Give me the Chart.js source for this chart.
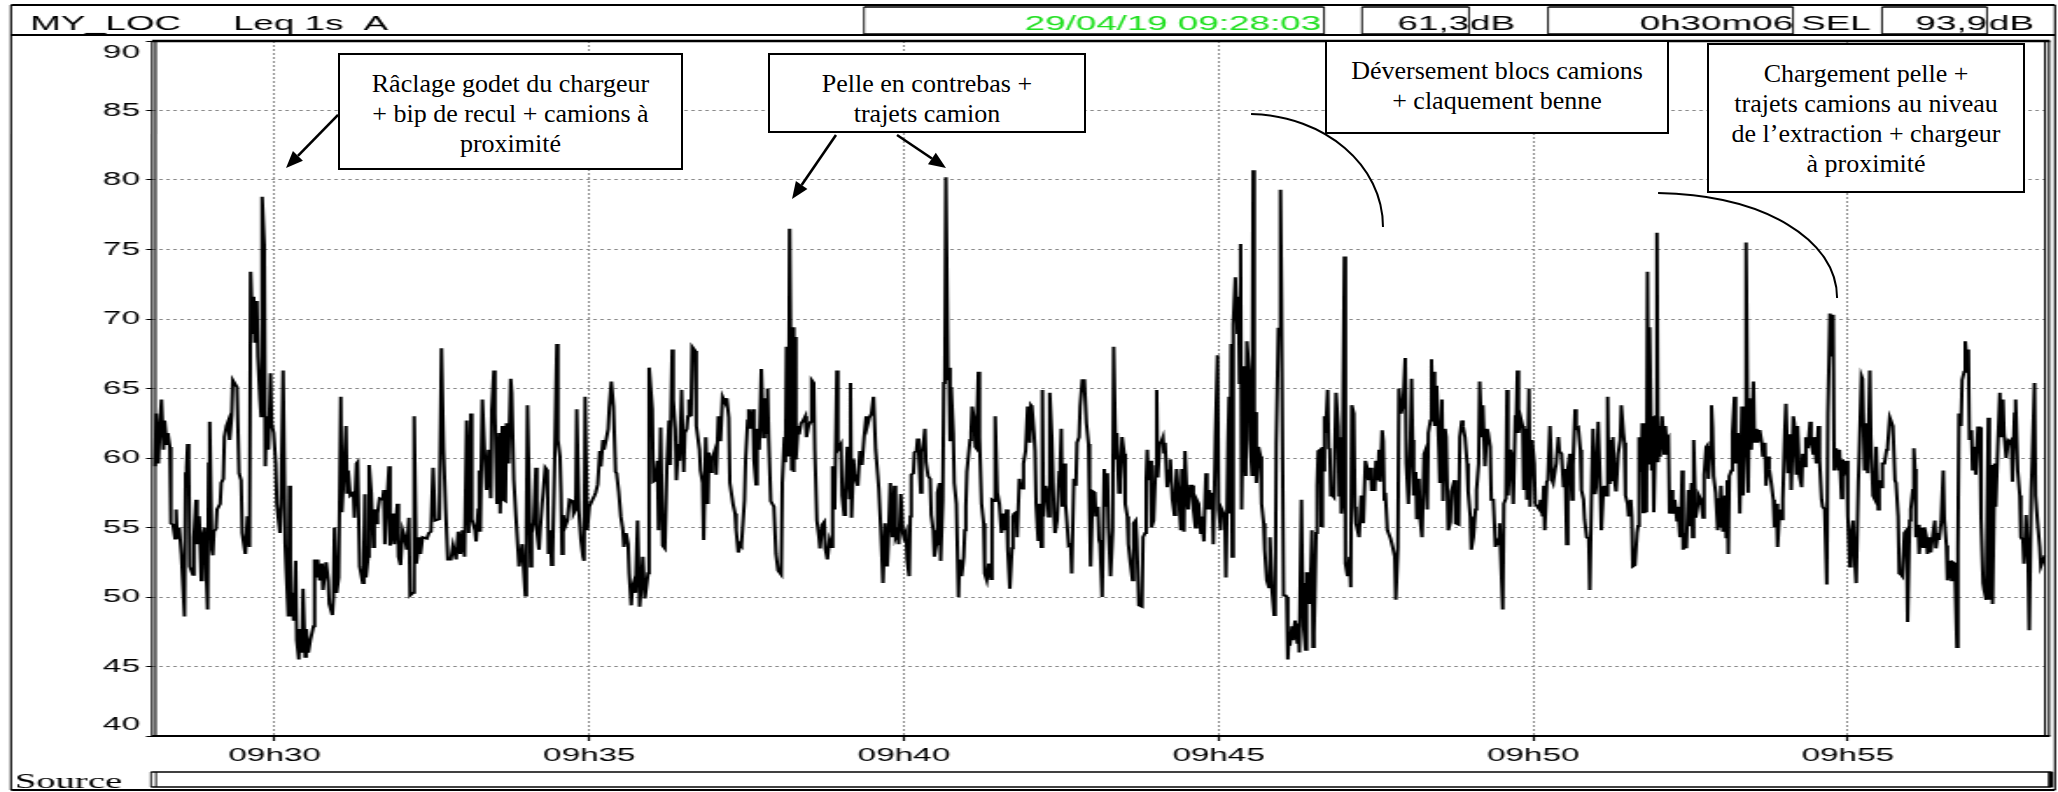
<!DOCTYPE html>
<html lang="fr">
<head>
<meta charset="utf-8">
<title>MY_LOC Leq 1s A</title>
<script src="https://cdn.jsdelivr.net/npm/chart.js@4.4.1/dist/chart.umd.min.js"></script>
<style>
html,body{margin:0;padding:0;background:#fff;overflow:hidden;}
#wrap{position:relative;width:2058px;height:792px;}
#chart{position:absolute;left:0;top:0;}
#ov{position:absolute;left:0;top:0;width:2058px;height:792px;overflow:visible;}
.note{position:absolute;box-sizing:border-box;border:2px solid #000;background:#fff;color:#000;
 font-family:"Liberation Serif","Times New Roman",serif;font-size:26px;line-height:30px;text-align:center;padding-top:14px;white-space:nowrap;}
</style>
</head>
<body>
<div id="wrap">
<canvas id="chart" width="1176" height="792" style="width:2058px;height:792px;display:block"></canvas>
<div id="notes"></div>
<svg id="ov" width="2058" height="792" xmlns="http://www.w3.org/2000/svg"></svg>
</div>
<script>
// ---- data: seconds after 09:28:03 and Leq 1s (dB(A)) read from the record ----
const times = [
3,4,6,8,9,11,12,14,15,17,18,20,22,23,24,26,28,31,32,33,
34,35,36,39,40,42,43,45,47,48,50,53,54,55,57,58,59,61,62,65,
66,68,69,71,73,74,76,77,81,83,85,86,89,91,93,94,96,97,98,100,
101,103,104,105,107,108,109,111,113,114,116,118,119,122,123,125,127,128,130,131,
132,134,135,137,138,140,141,143,144,146,147,149,151,154,155,157,158,160,162,163,
166,168,169,172,173,174,176,178,180,181,183,185,186,187,189,192,193,195,196,198,
201,202,203,204,206,207,209,211,212,214,215,217,220,221,222,224,226,227,230,231,
234,235,237,239,241,243,245,246,249,250,252,255,256,258,262,264,266,268,270,274,
276,278,280,282,285,287,290,292,294,296,298,300,302,304,305,308,309,311,312,313,
315,317,319,321,323,324,326,327,329,331,332,334,335,337,338,340,342,343,345,347,
349,350,353,356,357,358,
361,362,364,366,367,369,370,372,373,375,377,378,380,381,382,384,386,387,389,390,
391,392,394,396,398,401,402,404,405,407,409,411,412,413,415,417,420,422,423,425,
427,428,430,431,433,435,436,438,440,442,443,445,447,449,450,452,454,455,457,458,
460,461,463,465,466,468,470,473,474,477,478,480,482,483,485,487,489,491,493,494,
496,497,499,500,502,503,505,507,508,510,511,512,514,515,518,519,522,523,525,526,
528,530,531,533,534,537,538,540,542,544,547,548,550,551,554,556,557,559,561,562,
565,566,568,569,571,573,574,576,577,579,581,583,584,586,587,588,590,593,595,597,
600,601,603,604,605,607,608,610,611,612,613,614,616,617,619,621,623,624,626,628,
629,631,632,634,636,637,639,641,642,644,646,648,649,651,653,654,657,658,660,661,
663,665,666,667,669,670,673,675,677,679,681,682,684,686,688,690,692,693,695,697,
699,701,702,704,706,708,709,711,712,714,716,717,719,720,
722,723,724,726,727,729,730,731,733,734,736,737,738,740,742,743,745,746,748,749,
751,752,754,755,756,757,759,760,761,762,764,765,767,769,770,772,774,775,776,777,
780,781,782,784,785,786,788,789,791,793,794,796,798,800,801,803,804,806,808,810,
812,813,815,816,818,820,821,822,824,825,827,828,830,831,833,835,837,838,839,841,
842,843,845,846,848,849,850,852,854,855,856,858,860,861,863,865,866,867,868,870,
871,872,874,876,877,879,881,882,884,885,887,889,891,893,894,895,897,899,900,902,
903,904,906,908,909,911,912,914,916,917,919,920,922,923,925,927,928,930,931,933,
935,936,938,939,941,944,945,947,948,949,950,952,953,955,957,958,959,961,962,964,
965,966,968,970,971,973,975,976,977,979,981,982,984,985,987,988,990,992,993,995,
996,998,1000,1001,1003,1004,1005,1006,1008,1009,1011,1012,1014,1016,1017,1019,1020,1023,1024,1026,
1027,1028,1029,1030,1031,1033,1035,1036,1037,1038,1039,1041,1043,1044,1046,1047,1049,1050,1051,1052,
1053,1055,1057,1058,1060,1061,1063,1065,1066,1068,1070,1071,1072,1074,1075,1076,1077,1079,1081,1082,
1083,
1084,1085,1087,1088,1090,1092,1093,1094,1096,1097,1098,1100,1101,1103,1104,1106,1107,1108,1110,1111,
1112,1114,1115,1116,1117,1118,1119,1121,1122,1123,1124,1126,1127,1129,1131,1132,1133,1134,1135,1137,
1138,1140,1142,1143,1144,1146,1147,1148,1149,1151,1153,1154,1155,1157,1159,1160,1162,1163,1166,1167,
1169,1170,1171,1173,1174,1175,1176,1178,1181,1183,1185,1186,1188,1189,1191,1193,1195,1196,1198,1200,
1201,1202,1203,1205,1206,1208,1209,1211,1213,1214,1216,1217,1219,1220,1221,1222,1223,1225,1227,1228,
1230,1231,1233,1234,1236,1238,1239,1242,1243,1246,1247,1249,1250,1252,1254,1255,1257,1258,1260,1262,
1263,1265,1266,1268,1269,1271,1273,1274,1276,1277,1279,1281,1282,1284,1285,1287,1288,1289,1291,1292,
1293,1295,1296,1298,1300,1301,1302,1303,1305,1307,1308,1310,1311,1313,1314,1316,1318,1319,1321,1323,
1324,1326,1327,1328,1330,1331,1333,1335,1336,1338,1339,1341,1342,1344,1346,1347,1348,1349,1350,1352,
1354,1355,1357,1358,1360,1362,1363,1365,1366,1368,1370,1371,1373,1374,1376,1377,1379,1381,1382,1384,
1385,1387,1388,1389,1390,1392,1393,1395,1396,1398,1400,1401,1403,1404,1405,1407,1408,1410,1411,1412,
1414,1416,1417,1418,1420,1421,1422,1423,1425,1426,1427,1428,1430,1431,1432,1434,1435,1436,1437,1438,
1440,1442,1443,1444,
1446,1447,1449,1450,1452,1454,1455,1457,1458,1459,1460,1462,1463,1465,1466,1468,1469,1470,1472,1474,
1475,1477,1479,1480,1482,1483,1484,1486,1487,1488,1489,1491,1493,1494,1495,1496,1498,1500,1501,1502,
1503,1504,1506,1507,1509,1510,1512,1513,1514,1516,1517,1519,1520,1522,1523,1525,1527,1528,1530,1531,
1533,1535,1536,1538,1539,1541,1542,1544,1546,1547,1549,1550,1552,1554,1555,1557,1558,1560,1562,1563,
1565,1566,1568,1569,1571,1573,1574,1576,1577,1579,1581,1582,1584,1585,1587,1589,1590,1592,1593,1595,
1597,1598,1600,1601,1603,1604,1606,1608,1609,1611,1612,1614,1616,1617,1619,1620,1622,1623,1625,1627,
1628,1630,1631,1633,1635,1636,1638,1639,1641,1643,1644,1646,1647,1649,1650,1652,1654,1655,1657,1658,
1660,1662,1663,1665,1666,1668,1669,1671,1673,1674,1676,1677,1679,1680,1681,1682,1684,1685,1687,1689,
1690,1692,1693,1695,1696,1698,1700,1701,1703,1704,1706,1708,1709,1711,1712,1714,1716,1717,1719,1721,
1722,1723,1725,1726,1728,1729,1731,1732,1733,1735,1736,1738,1739,1741,1743,1744,1746,1747,1749,1751,
1752,1754,1755,1757,1758,1760,1762,1763,1765,1766,1768,1770,1771,1773,1774,1776,1777,1779,1781,1782,
1784,1785,1787,1789,1790,1792,1793,1795,1796,1798,1800,1801,1805
];
const levels = [
59.4,63.2,59.6,63.0,64.2,60.6,62.7,61.0,61.8,60.8,55.3,55.2,54.2,56.3,54.2,55.0,53.1,48.6,58.9,59.3,
61.0,59.9,52.2,51.6,54.3,57.0,53.8,55.8,51.2,54.3,55.0,49.1,59.6,62.6,53.4,53.0,54.7,54.9,56.3,56.7,
58.2,58.5,61.5,62.3,62.7,61.3,63.1,65.6,65.1,58.9,58.4,54.6,53.1,55.8,53.6,73.4,69.0,71.6,68.3,71.3,
67.3,64.2,63.0,78.8,75.4,59.4,63.0,60.6,66.1,62.5,61.8,59.6,56.7,54.6,56.5,66.3,53.8,51.9,48.6,58.0,
48.6,50.3,48.3,52.6,46.9,45.5,47.7,46.0,50.6,45.7,47.7,46.0,46.9,47.9,52.7,51.4,52.7,51.2,52.4,50.5,
52.5,51.2,49.5,48.7,50.0,55.0,50.3,51.4,64.4,56.1,59.1,62.3,57.5,59.1,57.3,57.5,55.7,59.6,59.7,52.2,
51.0,53.1,57.4,51.4,52.9,59.5,57.5,53.6,56.3,55.3,56.0,57.1,57.0,57.7,53.8,56.7,59.4,53.7,56.0,53.8,
56.7,52.9,52.3,54.8,54.3,53.4,55.7,50.1,50.3,63.0,52.4,54.3,53.1,54.3,54.2,54.6,54.7,59.3,55.5,55.6,
67.9,60.6,56.3,52.7,52.7,53.7,52.7,54.7,53.1,54.8,52.9,62.7,54.6,63.2,55.6,54.8,54.0,56.3,59.1,54.7,
64.2,60.6,57.7,60.6,57.1,63.5,66.3,63.2,56.7,61.8,56.0,62.3,57.0,56.9,62.5,59.6,65.7,64.7,58.4,55.8,
53.4,52.2,53.8,50.1,55.0,63.8,
52.2,54.6,55.4,59.3,54.8,53.4,54.7,56.7,57.5,59.3,59.1,53.1,54.8,52.3,53.1,60.1,68.2,61.3,60.1,57.5,
53.1,55.9,55.1,55.5,57.0,56.9,56.0,56.3,63.5,56.3,54.1,52.9,52.6,64.4,54.8,56.5,57.0,57.3,57.5,58.1,
60.5,59.4,61.3,60.6,61.3,62.1,63.6,65.5,63.7,59.0,58.9,57.6,55.8,54.8,53.6,54.6,53.8,51.7,49.4,50.7,
51.2,50.3,55.5,49.3,50.3,52.9,49.9,51.7,66.5,63.5,58.3,58.4,59.8,54.8,62.2,53.7,53.5,59.5,62.7,59.5,
67.8,64.2,62.1,58.4,61.0,59.8,64.9,59.0,61.8,62.1,63.0,64.2,63.0,68.0,67.7,62.3,60.6,59.1,58.2,54.1,
61.5,56.7,60.4,59.0,59.9,60.6,58.8,63.0,61.2,64.4,63.9,64.3,62.9,58.2,56.7,56.0,54.8,53.2,53.8,53.7,
57.0,59.9,62.7,63.5,62.1,63.5,59.9,58.1,62.1,60.6,66.4,61.5,64.3,61.8,65.0,61.5,56.9,56.5,53.1,51.9,
51.6,58.2,61.5,59.7,68.0,60.1,76.5,59.1,69.4,59.0,68.7,59.9,62.3,61.7,62.5,62.7,63.0,61.5,62.3,62.6,
65.6,65.4,60.6,55.5,54.3,53.5,55.2,55.4,53.5,52.7,54.1,53.6,59.4,56.3,66.3,60.6,61.0,57.3,55.9,57.3,
60.8,57.1,65.4,55.7,59.9,58.8,58.0,60.5,59.5,61.5,63.0,62.3,62.9,63.2,64.4,60.6,58.8,57.8,54.8,51.0,
55.3,52.2,53.8,58.2,54.3,58.0,54.3,54.7,53.8,57.4,54.6,54.3,54.7,52.7,
51.5,55.8,58.8,58.9,60.4,60.5,61.4,60.5,57.5,60.4,61.3,62.1,59.7,58.7,58.5,55.9,54.8,52.9,53.8,57.5,
58.2,52.6,57.0,65.4,65.6,80.2,65.6,66.5,61.2,65.1,61.8,58.2,56.7,50.0,52.7,51.5,52.9,54.8,56.5,59.0,
61.3,61.8,63.7,62.7,60.8,60.7,66.2,61.5,56.7,55.3,51.7,51.2,52.4,51.3,57.0,56.9,63.0,57.5,56.7,54.6,
56.0,54.8,56.3,53.4,50.6,53.5,55.8,56.0,56.1,54.3,58.5,58.0,57.8,59.6,60.5,63.7,61.1,63.8,63.7,61.8,
60.5,56.7,54.1,56.7,53.6,64.9,55.8,58.0,57.3,55.8,64.7,61.5,56.0,54.6,55.5,59.0,59.6,62.1,56.5,59.6,
56.7,55.8,53.7,53.8,51.7,58.5,58.0,61.1,61.5,63.7,65.6,65.6,62.5,61.0,56.3,52.2,57.6,57.5,55.8,56.5,
54.1,53.8,50.0,59.2,56.5,58.9,55.0,51.5,54.8,68.0,59.9,61.8,57.5,58.4,61.5,60.3,56.7,55.8,53.8,52.4,
51.2,55.3,55.5,54.2,49.4,49.3,54.3,54.6,58.4,60.6,58.4,59.8,55.0,55.5,59.4,64.9,58.6,61.1,61.1,61.5,
60.4,61.1,57.9,59.1,59.9,57.0,55.9,57.7,59.2,57.3,54.8,59.2,54.7,60.5,57.0,56.3,58.0,58.0,56.3,55.0,
57.0,56.7,54.6,55.8,54.0,56.7,58.9,56.3,57.7,56.3,57.5,53.8,61.5,67.4,56.3,54.8,56.3,55.8,51.4,61.0,
64.4,56.0,68.2,52.9,69.6,73.0,69.0,71.6,65.4,75.4,56.3,66.6,58.7,68.4,66.3,61.3,58.7,80.7,58.7,63.3,
58.2,60.8,60.1,56.7,55.3,53.4,51.2,50.7,54.3,50.5,48.7,48.8,61.0,69.3,69.3,79.3,71.4,50.1,50.1,50.0,
45.5,
47.2,46.5,47.9,46.9,48.3,46.7,48.1,46.0,57.0,51.0,47.9,46.2,51.7,51.7,49.5,54.8,46.4,47.4,54.6,58.0,
60.5,60.6,55.1,60.8,59.1,63.0,61.8,64.9,60.7,60.6,57.3,57.3,57.2,64.7,62.3,57.3,61.5,56.0,57.0,74.5,
52.4,51.5,52.9,50.7,63.8,63.2,56.5,55.3,55.0,54.3,57.3,57.0,55.3,59.8,59.2,58.4,59.3,57.7,57.7,59.8,
58.4,60.6,58.3,62.0,61.2,57.0,57.5,54.8,54.2,53.6,52.9,49.8,53.6,65.0,63.2,63.9,67.2,59.6,56.7,61.5,
65.7,61.3,57.3,59.0,55.6,58.5,55.8,54.3,60.3,60.5,56.3,61.8,62.7,67.1,63.5,66.2,62.3,65.2,60.8,58.2,
64.2,56.9,62.1,61.5,54.8,55.4,57.6,58.4,55.3,55.2,61.5,62.7,62.3,61.5,59.6,57.6,55.8,53.4,54.3,56.3,
57.7,59.6,65.5,61.5,63.8,59.4,62.1,61.8,60.8,57.0,57.0,53.6,54.1,53.8,55.3,51.0,49.1,56.7,57.1,64.9,
57.3,60.6,60.3,56.7,63.0,63.0,66.3,61.8,62.9,62.3,57.7,62.1,57.0,65.0,56.5,61.3,59.6,56.7,56.5,56.3,
57.0,55.8,58.0,54.8,58.3,58.4,62.3,58.4,58.2,59.2,59.6,61.5,60.5,60.3,57.9,59.2,57.7,53.8,59.2,60.3,
57.0,59.5,63.5,62.1,62.2,60.6,57.7,57.0,55.6,54.3,54.2,50.5,58.7,62.1,57.4,57.9,62.6,57.9,54.8,57.9,
58.0,57.3,64.4,58.2,61.3,58.4,61.5,58.2,57.6,60.3,61.3,63.8,61.8,61.1,57.3,56.7,55.8,57.0,55.8,52.2,
52.3,54.6,55.1,61.5,59.0,62.5,56.1,62.5,56.1,73.4,59.6,69.4,59.1,63.0,56.1,63.0,76.2,59.7,62.3,60.1,
63.0,60.3,62.3,61.3,
61.5,56.0,57.7,56.0,57.0,55.5,56.5,54.3,55.5,59.1,53.4,54.6,53.5,57.7,55.1,58.2,54.3,61.3,55.7,56.7,
57.3,57.0,55.7,58.8,60.8,60.9,58.5,60.8,63.8,62.2,58.7,57.5,54.8,57.1,55.0,58.0,54.7,57.3,54.3,58.4,
53.1,58.7,59.1,61.8,64.4,59.6,61.8,59.6,56.0,63.7,57.3,61.5,75.5,57.5,64.3,60.6,65.5,61.1,62.1,61.1,
62.0,61.1,60.1,61.1,58.0,60.1,59.2,58.2,57.0,55.0,56.7,53.6,56.3,55.6,57.0,62.0,63.9,58.9,61.7,57.7,
63.0,62.5,58.8,62.3,58.7,57.9,60.3,59.4,61.5,60.7,62.6,61.3,60.3,61.5,59.6,62.3,59.9,57.0,56.5,56.3,
50.9,63.2,70.4,67.3,70.3,59.1,60.7,59.1,60.6,57.1,59.9,59.2,59.8,55.8,52.2,54.3,55.5,53.4,51.0,58.2,
60.5,65.9,65.7,59.1,62.5,58.9,66.3,61.5,57.3,57.0,60.8,56.3,58.4,57.9,59.6,59.6,60.6,60.8,62.9,62.7,
62.3,58.4,58.2,55.8,51.7,51.6,51.5,54.6,54.8,48.2,55.5,56.3,57.7,60.7,59.2,54.3,55.2,53.1,55.0,53.6,
55.0,54.3,53.1,54.3,53.2,54.4,55.5,53.5,54.6,54.1,55.4,59.1,55.6,53.7,51.2,52.6,51.2,52.5,52.4,46.4,
53.4,63.2,62.3,65.6,66.2,68.4,66.3,67.8,61.3,62.0,59.1,60.8,58.8,62.2,62.2,55.8,51.0,50.5,49.8,62.9,
49.8,59.5,49.5,59.6,56.5,60.8,64.7,61.5,64.2,61.8,60.0,61.2,61.1,61.3,58.3,63.2,64.2,59.1,57.3,54.3,
54.1,52.4,55.9,52.4,47.6,57.7,60.1,65.4,57.3,55.3,53.6,52.2,53.0
];

// axis ticks
const recordLength = 1806;                       // 0h30m06
const tickSeconds = [117, 417, 717, 1017, 1317, 1617];
const tickLabels = ['09h30', '09h35', '09h40', '09h45', '09h50', '09h55'];
const yMin = 40, yMax = 90, yStep = 5;

// header texts
const stationName = 'MY_LOC';
const measureName = 'Leq 1s  A';
const startStamp = '29/04/19 09:28:03';
const leqValue = '61,3';
const durationText = '0h30m06';
const selValue = '93,9';
const sourceLabel = 'Source';

// annotations, anchored in data units [t0, t1, dB top, dB bottom]
const noteTexts = [
  ['Râclage godet du chargeur', '+ bip de recul + camions à', 'proximité'],
  ['Pelle en contrebas +', 'trajets camion'],
  ['Déversement blocs camions', '+ claquement benne'],
  ['Chargement pelle +', 'trajets camions au niveau', 'de l’extraction + chargeur', 'à proximité']
];
const noteBoxes = [[177.4, 506.3, 89.14, 80.72], [587.4, 890.6, 89.14, 83.38], [1118.5, 1446.5, 90.07, 83.31], [1482.8, 1786.0, 89.86, 79.06]];
const noteArrows = [[177.4, 84.68, 127.8, 80.86], [652.2, 83.24, 610.3, 78.63], [710.4, 83.24, 757.1, 80.86]];
const noteCurves = [
  [1048, 84.75, 1118.5, 84.6, 1173.8, 81.08, 1173.8, 76.62],
  [1436.1, 79.06, 1538.1, 78.92, 1606.8, 75.68, 1606.8, 71.51]
];

// ---- layout (canvas is drawn narrow and stretched horizontally like the original print) ----
const CW = 1176, CH = 792, S = 2058 / CW;
const fx = v => v / S;
const SANS = '"Liberation Sans", Arial, sans-serif';
const SERIF = '"Liberation Serif", "Times New Roman", serif';

const decor = {
  id: 'decor',
  beforeDraw(chart) {
    const c = chart.ctx;
    c.save(); c.fillStyle = '#fff'; c.fillRect(0, 0, CW, CH); c.restore();
  },
  afterDraw(chart) {
    const c = chart.ctx, a = chart.chartArea;
    c.save();
    c.strokeStyle = '#000';
    c.setLineDash([]);
    const hl = (x1, x2, y, w) => { c.lineWidth = w; c.beginPath(); c.moveTo(fx(x1), y); c.lineTo(fx(x2), y); c.stroke(); };
    const vl = (x, y1, y2, w) => { c.lineWidth = w / S; c.beginPath(); c.moveTo(fx(x), y1); c.lineTo(fx(x), y2); c.stroke(); };
    const rect = (x1, y1, x2, y2, w) => { hl(x1, x2, y1, w); hl(x1, x2, y2, w); vl(x1, y1, y2, w); vl(x2, y1, y2, w); };

    // outer frame and header row
    rect(11, 5, 2055, 790, 2);
    hl(11, 2055, 35, 2);
    rect(864, 7, 1324, 34, 1.6);
    rect(1362, 7, 1469, 34, 1.6);
    rect(1548, 7, 1793, 34, 1.6);
    rect(1882, 7, 1987, 34, 1.6);

    c.font = '21px ' + SANS;
    c.textBaseline = 'alphabetic';
    c.fillStyle = '#000';
    c.textAlign = 'left';
    c.fillText(stationName, fx(30), 30);
    c.fillText(measureName, fx(233), 30);
    c.textAlign = 'right';
    c.fillStyle = '#1fe01f';
    c.fillText(startStamp, fx(1321), 30);
    c.fillStyle = '#000';
    c.fillText(leqValue, fx(1469), 30);
    c.fillText(durationText, fx(1793), 30);
    c.fillText(selValue, fx(1987), 30);
    c.textAlign = 'left';
    c.fillText('dB', fx(1470), 30);
    c.fillText('SEL', fx(1801), 30);
    c.fillText('dB', fx(1989), 30);

    // plot frame
    const L = a.left, R = a.right, T = a.top, B = a.bottom;
    c.lineWidth = 2.6; c.beginPath(); c.moveTo(L, T); c.lineTo(R + fx(4), T); c.stroke();
    c.lineWidth = 2; c.beginPath(); c.moveTo(L, B); c.lineTo(R + fx(4), B); c.stroke();
    c.lineWidth = 1.1;
    [L, L + fx(3.6), R - fx(1), R + fx(3)].forEach(x => { c.beginPath(); c.moveTo(x, T); c.lineTo(x, B); c.stroke(); });

    // source row
    rect(151, 772, 2052, 787, 1.6);
    vl(156, 772, 787, 1.6);
    c.fillRect(fx(2048), 772, fx(5), 15);
    c.font = '22px ' + SERIF;
    c.textAlign = 'left';
    c.fillText(sourceLabel, fx(15), 788);
    c.restore();
  }
};

const n = Math.min(times.length, levels.length);
const points = [];
for (let i = 0; i < n; i++) points.push({ x: times[i], y: levels[i] });

const chart = new Chart(document.getElementById('chart'), {
  type: 'line',
  data: {
    datasets: [{
      label: 'Leq 1s A',
      data: points,
      borderColor: '#000',
      borderWidth: 2,
      pointRadius: 0,
      tension: 0,
      fill: false
    }]
  },
  options: {
    responsive: false,
    animation: false,
    events: [],
    devicePixelRatio: 1,
    layout: { padding: { top: 41, right: CW - fx(2046), bottom: 0, left: 0 } },
    plugins: { legend: { display: false }, tooltip: { enabled: false }, title: { display: false } },
    scales: {
      x: {
        type: 'linear',
        min: 0,
        max: recordLength,
        afterBuildTicks: s => { s.ticks = tickSeconds.map(v => ({ value: v })); },
        afterFit: s => { s.height = CH - 736; },
        grid: { color: '#8c8c8c', lineWidth: 1, drawTicks: true, tickLength: 5, tickColor: '#000', tickWidth: 1.2 },
        border: { display: false, dash: [2, 2] },
        ticks: {
          autoSkip: false, maxRotation: 0, padding: 3, color: '#000',
          font: { family: SANS, size: 19 },
          callback: (v, i) => tickLabels[i]
        }
      },
      y: {
        min: yMin,
        max: yMax,
        afterFit: s => { s.width = fx(152); },
        grid: { color: '#8c8c8c', lineWidth: 1, drawTicks: true, tickLength: 3.4, tickColor: '#000', tickWidth: 1 },
        border: { display: false, dash: [2, 2] },
        ticks: {
          stepSize: yStep, padding: 3.5, color: '#000',
          font: { family: SANS, size: 19 },
          // the end labels sit inside the frame, as on the printout
          callback: v => v === yMax ? ['', String(v)] : (v === yMin ? [String(v), ''] : String(v))
        }
      }
    }
  },
  plugins: [decor]
});

// ---- annotation overlay (unstretched text boxes, arrows, curves) ----
const xs = chart.scales.x, ys = chart.scales.y;
const PX = t => xs.getPixelForValue(t) * S;
const PY = v => ys.getPixelForValue(v);
const notesDiv = document.getElementById('notes');
noteBoxes.forEach((b, i) => {
  const d = document.createElement('div');
  d.className = 'note';
  const l = PX(b[0]), r = PX(b[1]), t = PY(b[2]), bt = PY(b[3]);
  d.style.left = l + 'px'; d.style.top = t + 'px';
  d.style.width = (r - l) + 'px'; d.style.height = (bt - t) + 'px';
  noteTexts[i].forEach((line, k) => {
    if (k) d.appendChild(document.createElement('br'));
    d.appendChild(document.createTextNode(line));
  });
  notesDiv.appendChild(d);
});
const svg = document.getElementById('ov');
const NS = 'http://www.w3.org/2000/svg';
function el(name, attrs) { const e = document.createElementNS(NS, name); for (const k in attrs) e.setAttribute(k, attrs[k]); svg.appendChild(e); return e; }
noteArrows.forEach(a => {
  const x1 = PX(a[0]), y1 = PY(a[1]), x2 = PX(a[2]), y2 = PY(a[3]);
  const ang = Math.atan2(y2 - y1, x2 - x1), len = 17, hw = 7;
  const bx = x2 - len * Math.cos(ang), by = y2 - len * Math.sin(ang);
  el('line', { x1, y1, x2: bx, y2: by, stroke: '#000', 'stroke-width': 2.6 });
  el('polygon', { points: `${x2},${y2} ${bx + hw * Math.sin(ang)},${by - hw * Math.cos(ang)} ${bx - hw * Math.sin(ang)},${by + hw * Math.cos(ang)}`, fill: '#000' });
});
noteCurves.forEach(q => {
  el('path', { d: `M${PX(q[0])},${PY(q[1])} C${PX(q[2])},${PY(q[3])} ${PX(q[4])},${PY(q[5])} ${PX(q[6])},${PY(q[7])}`, fill: 'none', stroke: '#000', 'stroke-width': 2 });
});
</script>
</body>
</html>
